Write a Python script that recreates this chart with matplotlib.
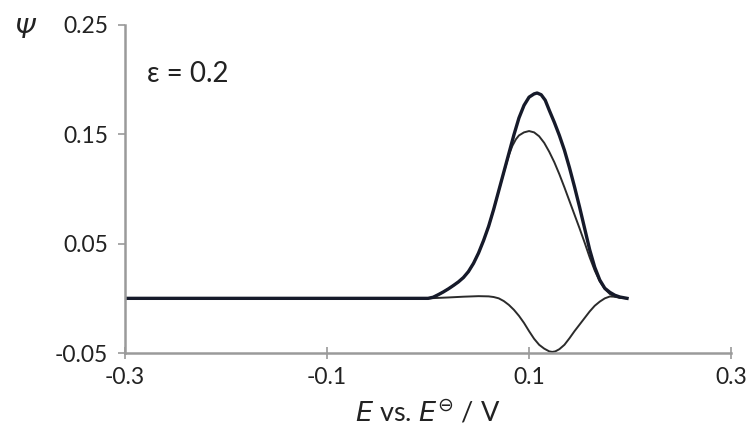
import matplotlib
matplotlib.use("Agg")
import matplotlib.pyplot as plt

# Net response (thick curve)
E_net = [-0.30, 0.000, 0.005, 0.010, 0.015, 0.020, 0.025, 0.030, 0.035, 0.040, 0.045,
         0.050, 0.055, 0.060, 0.065, 0.070, 0.075, 0.080, 0.085, 0.090, 0.095,
         0.100, 0.105, 0.108, 0.112, 0.116, 0.120, 0.125, 0.130, 0.135, 0.140,
         0.145, 0.150, 0.155, 0.160, 0.165, 0.170, 0.175, 0.180, 0.185, 0.190, 0.197]
psi_net = [0.0, 0.0, 0.001, 0.0033, 0.0058, 0.0086, 0.0117, 0.0150, 0.0190, 0.0245, 0.0320,
           0.0415, 0.0530, 0.0660, 0.0815, 0.0985, 0.1155, 0.1325, 0.1495, 0.1650, 0.1765,
           0.1840, 0.1870, 0.1878, 0.1862, 0.1812, 0.1720, 0.1610, 0.1490, 0.1355, 0.1195,
           0.1020, 0.0835, 0.0640, 0.0445, 0.0285, 0.0168, 0.0092, 0.0055, 0.0028, 0.0012, 0.0]

# Forward component (thin upper curve)
E_fwd = [-0.30, 0.000, 0.005, 0.010, 0.015, 0.020, 0.025, 0.030, 0.035, 0.040, 0.045,
         0.050, 0.055, 0.060, 0.065, 0.070, 0.075, 0.080, 0.0835, 0.087, 0.090, 0.095,
         0.100, 0.105, 0.110, 0.115, 0.120, 0.125, 0.130, 0.135, 0.140, 0.145,
         0.150, 0.155, 0.160, 0.165, 0.170, 0.175, 0.180, 0.185, 0.190, 0.197]
psi_fwd = [0.0, 0.0, 0.001, 0.0033, 0.0058, 0.0086, 0.0117, 0.0150, 0.0190, 0.0245, 0.0320,
           0.0415, 0.0530, 0.0660, 0.0815, 0.0985, 0.1150, 0.1310, 0.1395, 0.1455, 0.1490, 0.1518,
           0.1530, 0.1518, 0.1482, 0.1422, 0.1340, 0.1245, 0.1135, 0.1015, 0.0890, 0.0765,
           0.0640, 0.0510, 0.0375, 0.0255, 0.0155, 0.0085, 0.0040, 0.0015, 0.0004, 0.0]

# Backward component (thin lower curve)
E_bwd = [-0.30, 0.000, 0.020, 0.035, 0.050, 0.060, 0.065, 0.070, 0.075, 0.080, 0.085,
         0.090, 0.095, 0.100, 0.105, 0.110, 0.115, 0.120, 0.123, 0.126, 0.130, 0.135,
         0.140, 0.145, 0.150, 0.155, 0.160, 0.165, 0.170, 0.175, 0.180, 0.185, 0.190, 0.197]
psi_bwd = [0.0, 0.0, 0.0008, 0.0015, 0.0020, 0.0018, 0.0012, 0.0, -0.0025, -0.006, -0.0105,
           -0.016, -0.0225, -0.030, -0.037, -0.0425, -0.046, -0.0485, -0.049, -0.0485, -0.0465, -0.0425,
           -0.0365, -0.030, -0.024, -0.018, -0.012, -0.0068, -0.003, 0.0, 0.0017, 0.0015, 0.0008, 0.0]

x_ticks = [-0.3, -0.1, 0.1, 0.3]
x_ticklabels = ["-0.3", "-0.1", "0.1", "0.3"]
y_ticks = [-0.05, 0.05, 0.15, 0.25]
y_ticklabels = ["-0.05", "0.05", "0.15", "0.25"]

plt.rcParams['font.family'] = ['Lato', 'DejaVu Sans']

fig = plt.figure(figsize=(7.46, 4.40), dpi=100)
ax = fig.add_axes([0.1676, 0.1977, 0.8124, 0.7455])

ax.plot(E_fwd, psi_fwd, color='#2b2b2b', lw=1.4, solid_joinstyle='round')
ax.plot(E_bwd, psi_bwd, color='#2b2b2b', lw=1.4, solid_joinstyle='round')
ax.plot(E_net, psi_net, color='#161a2a', lw=2.4, solid_joinstyle='round')

ax.set_xlim(-0.3, 0.3)
ax.set_ylim(-0.05, 0.25)
ax.set_xticks(x_ticks)
ax.set_xticklabels(x_ticklabels)
ax.set_yticks(y_ticks)
ax.set_yticklabels(y_ticklabels)

for s in ['top', 'right']:
    ax.spines[s].set_visible(False)
for s in ['left', 'bottom']:
    ax.spines[s].set_color('#9a9a9a')
    ax.spines[s].set_linewidth(1.8)

ax.tick_params(axis='y', direction='out', length=5, width=1.2, color='#9a9a9a',
               labelsize=16.5, labelcolor='#222222', pad=7)
ax.tick_params(axis='x', direction='inout', length=8, width=1.2, color='#9a9a9a',
               labelsize=16.5, labelcolor='#222222', pad=6)

ax.text(0.037, 0.85, "\u03b5 = 0.2", transform=ax.transAxes, fontsize=20,
        color='#222222', ha='left', va='center')
fig.text(0.033, 0.93, "\u03a8", fontsize=19, style='italic', family='DejaVu Sans',
         color='#222222', ha='center', va='center')
ax.set_xlabel(r"$E$ vs. $E^{\ominus}$ / V", fontsize=19.5, color='#222222', labelpad=8)

fig.savefig("out.png", dpi=100)
